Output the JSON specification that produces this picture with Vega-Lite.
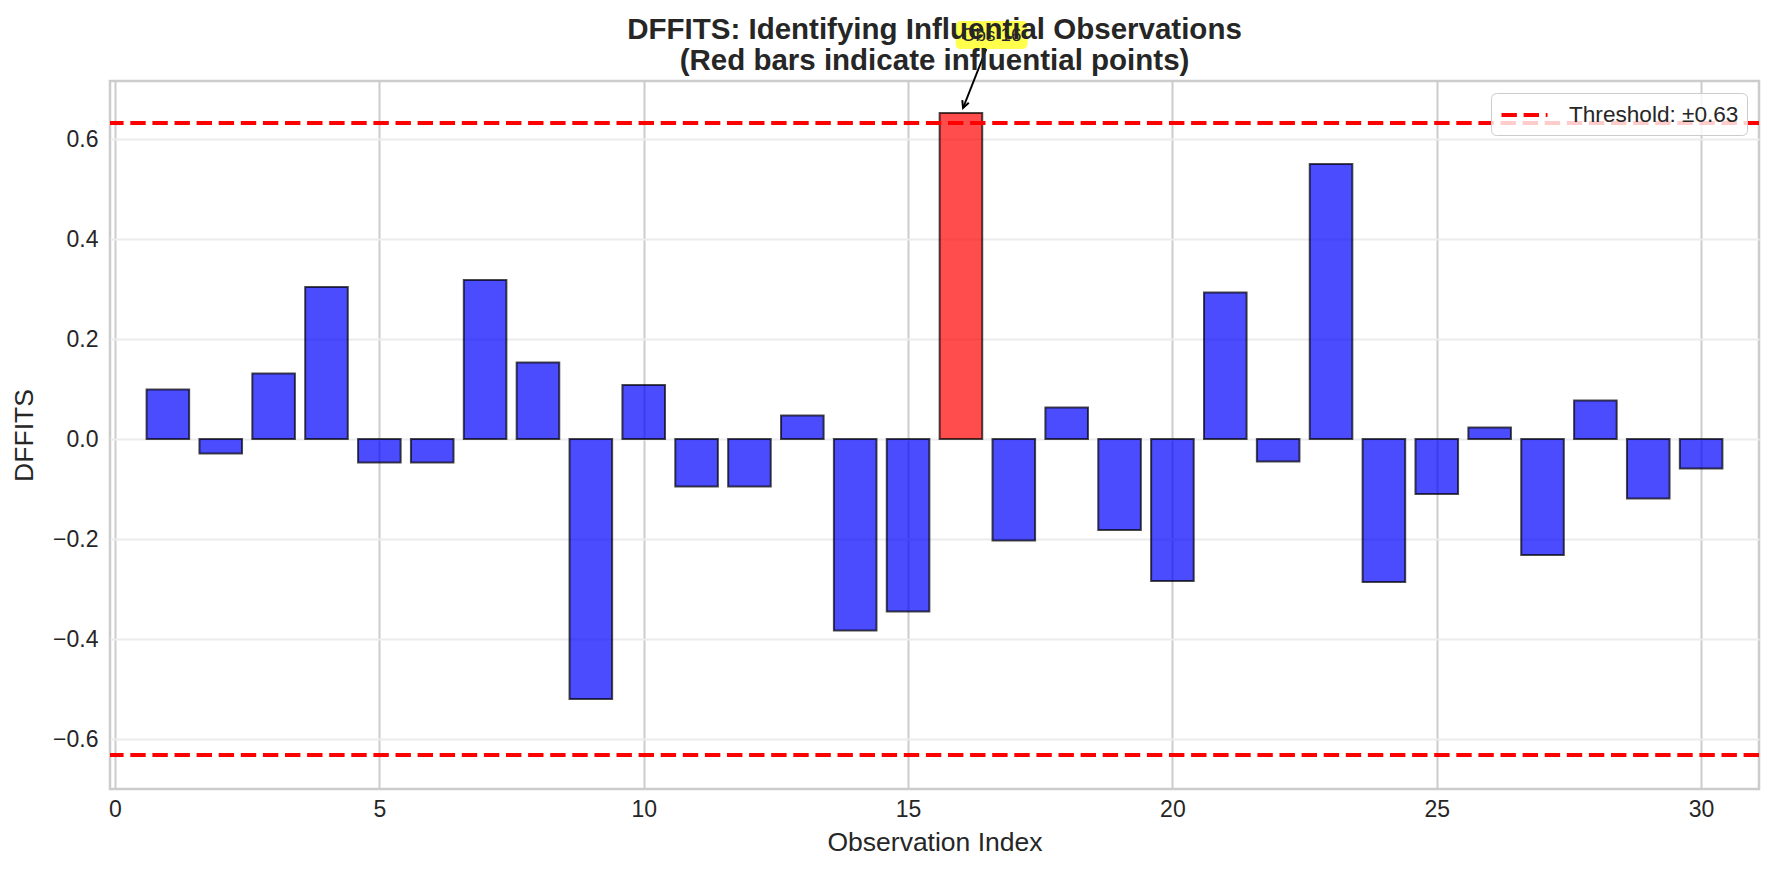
{
  "$schema": "https://vega.github.io/schema/vega-lite/v6.json",
  "width": 1649,
  "height": 708,
  "autosize": {"type": "none"},
  "padding": {"left": 110, "top": 81, "right": 14, "bottom": 86},
  "background": "white",
  "title": {
    "text": ["DFFITS: Identifying Influential Observations", "(Red bars indicate influential points)"],
    "fontSize": 29.5,
    "fontWeight": "bold",
    "font": "Liberation Sans",
    "color": "#262626",
    "lineHeight": 31,
    "anchor": "middle",
    "offset": -55,
    "zindex": -1
  },
  "config": {
    "font": "Liberation Sans",
    "view": {"stroke": "#cccccc", "strokeWidth": 2.5},
    "axis": {
      "domain": false,
      "ticks": false,
      "labelFont": "Liberation Sans",
      "titleFont": "Liberation Sans",
      "labelFontSize": 23,
      "labelColor": "#262626",
      "titleFontSize": 26.5,
      "titleColor": "#262626",
      "titleFontWeight": "normal",
      "gridWidth": 2
    }
  },
  "layer": [
    {
      "data": {
        "values": [
          {"obs": 1, "dffits": 0.099, "status": "normal"},
          {"obs": 2, "dffits": -0.029, "status": "normal"},
          {"obs": 3, "dffits": 0.131, "status": "normal"},
          {"obs": 4, "dffits": 0.304, "status": "normal"},
          {"obs": 5, "dffits": -0.047, "status": "normal"},
          {"obs": 6, "dffits": -0.047, "status": "normal"},
          {"obs": 7, "dffits": 0.318, "status": "normal"},
          {"obs": 8, "dffits": 0.153, "status": "normal"},
          {"obs": 9, "dffits": -0.520, "status": "normal"},
          {"obs": 10, "dffits": 0.108, "status": "normal"},
          {"obs": 11, "dffits": -0.095, "status": "normal"},
          {"obs": 12, "dffits": -0.095, "status": "normal"},
          {"obs": 13, "dffits": 0.047, "status": "normal"},
          {"obs": 14, "dffits": -0.383, "status": "normal"},
          {"obs": 15, "dffits": -0.345, "status": "normal"},
          {"obs": 16, "dffits": 0.652, "status": "influential"},
          {"obs": 17, "dffits": -0.203, "status": "normal"},
          {"obs": 18, "dffits": 0.063, "status": "normal"},
          {"obs": 19, "dffits": -0.182, "status": "normal"},
          {"obs": 20, "dffits": -0.284, "status": "normal"},
          {"obs": 21, "dffits": 0.293, "status": "normal"},
          {"obs": 22, "dffits": -0.045, "status": "normal"},
          {"obs": 23, "dffits": 0.550, "status": "normal"},
          {"obs": 24, "dffits": -0.286, "status": "normal"},
          {"obs": 25, "dffits": -0.110, "status": "normal"},
          {"obs": 26, "dffits": 0.023, "status": "normal"},
          {"obs": 27, "dffits": -0.232, "status": "normal"},
          {"obs": 28, "dffits": 0.077, "status": "normal"},
          {"obs": 29, "dffits": -0.119, "status": "normal"},
          {"obs": 30, "dffits": -0.059, "status": "normal"}
        ]
      },
      "mark": {"type": "bar", "width": 42.6, "fillOpacity": 0.7, "stroke": "black", "strokeOpacity": 0.7, "strokeWidth": 2},
      "encoding": {
        "x": {
          "field": "obs", "type": "quantitative",
          "scale": {"domain": [0, 31], "nice": false, "zero": false},
          "axis": {"values": [0, 5, 10, 15, 20, 25, 30], "title": "Observation Index", "gridColor": "#cccccc", "labelPadding": 9, "titlePadding": 8, "format": "d"}
        },
        "y": {
          "field": "dffits", "type": "quantitative",
          "scale": {"domain": [-0.7, 0.716], "nice": false, "zero": false},
          "axis": {"values": [-0.6, -0.4, -0.2, 0, 0.2, 0.4, 0.6], "format": ".1f", "title": "DFFITS", "gridColor": "#ececec", "labelPadding": 12, "titlePadding": 14}
        },
        "fill": {
          "field": "status", "type": "nominal",
          "scale": {"domain": ["normal", "influential"], "range": ["blue", "red"]},
          "legend": null
        }
      }
    },
    {
      "mark": {"type": "rule", "color": "black", "opacity": 0.5, "strokeWidth": 1.5},
      "encoding": {"y": {"datum": 0}}
    },
    {
      "data": {"values": [{"threshold": 0.632}, {"threshold": -0.632}]},
      "mark": {"type": "rule", "strokeDash": [15.4, 6.7], "strokeWidth": 4.2},
      "encoding": {
        "y": {"field": "threshold", "type": "quantitative"},
        "stroke": {
          "datum": "Threshold: ±0.63",
          "scale": {"range": ["red"]},
          "legend": {
            "orient": "top-right",
            "offset": 12,
            "title": null,
            "fillColor": "rgba(255,255,255,0.8)",
            "strokeColor": "#cccccc",
            "cornerRadius": 5,
            "padding": 8,
            "symbolType": "M-1,0H3",
            "symbolDash": [15.4, 6.7],
            "symbolStrokeWidth": 4.2,
            "symbolSize": 529,
            "labelFontSize": 22.6,
            "labelColor": "#262626",
            "labelOffset": 42,
            "labelLimit": 400,
            "labelFont": "Liberation Sans"
          }
        }
      }
    },
    {
      "data": {"values": [{"label": "Obs 16"}]},
      "mark": {"type": "rect", "fill": "yellow", "fillOpacity": 0.7, "cornerRadius": 5},
      "encoding": {
        "x": {"datum": 15.9, "type": "quantitative"},
        "x2": {"datum": 17.26},
        "y": {"datum": 0.836, "type": "quantitative"},
        "y2": {"datum": 0.78}
      }
    },
    {
      "data": {"values": [{"label": "Obs 16"}]},
      "mark": {"type": "rule", "color": "black", "strokeWidth": 2},
      "encoding": {
        "x": {"datum": 16.48, "type": "quantitative"},
        "x2": {"datum": 16.04},
        "y": {"datum": 0.78, "type": "quantitative"},
        "y2": {"datum": 0.662}
      }
    },
    {
      "data": {"values": [{"label": "Obs 16"}]},
      "mark": {"type": "point", "shape": "M-0.5,-1L0,0L0.5,-1", "filled": false, "stroke": "black", "strokeWidth": 2, "size": 196, "angle": 21, "opacity": 1},
      "encoding": {
        "x": {"datum": 16.04, "type": "quantitative"},
        "y": {"datum": 0.662, "type": "quantitative"}
      }
    },
    {
      "data": {"values": [{"label": "Obs 16", "obs": 16}]},
      "mark": {"type": "text", "align": "left", "baseline": "middle", "fontSize": 18.8, "color": "#262626", "font": "Liberation Sans"},
      "encoding": {
        "x": {"field": "obs", "type": "quantitative"},
        "y": {"datum": 0.808, "type": "quantitative"},
        "text": {"field": "label"}
      }
    }
  ]
}
